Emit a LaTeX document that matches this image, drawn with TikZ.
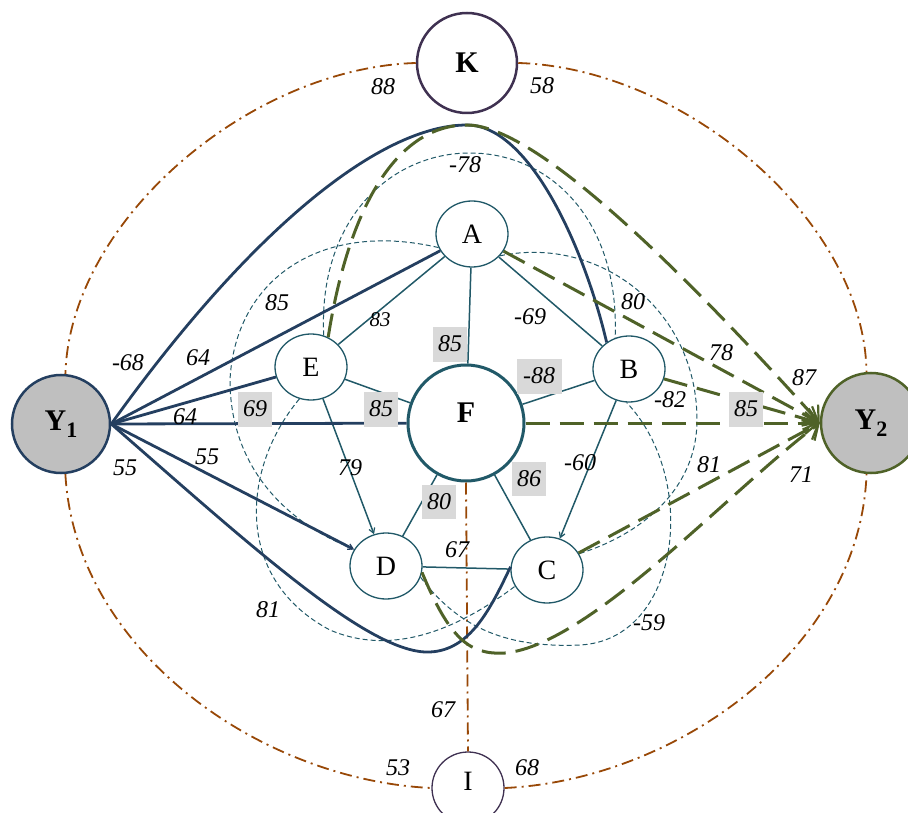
\documentclass[tikz,border=0pt]{standalone}
\usepackage{fontspec}
\setmainfont{Liberation Serif}
\usetikzlibrary{shapes.geometric,arrows.meta}
\definecolor{tealc}{HTML}{215968}
\definecolor{navyc}{HTML}{243F60}
\definecolor{greenc}{HTML}{4F6228}
\definecolor{brownc}{HTML}{984807}
\definecolor{purplec}{HTML}{3F3151}
\definecolor{ygray}{HTML}{BFBFBF}
\definecolor{boxgray}{HTML}{D9D9D9}
\begin{document}
\begin{tikzpicture}[x=1pt,y=-1pt,
  smallnode/.style={ellipse,draw=tealc,line width=1.3pt,fill=white,minimum width=72pt,minimum height=66pt,inner sep=0pt,font=\fontsize{28}{30}\selectfont},
  bignode/.style={circle,inner sep=0pt,font=\fontsize{30}{32}\selectfont\bfseries},
  lab/.style={font=\fontsize{24}{26}\selectfont\itshape,inner sep=1pt},
  glab/.style={lab,fill=boxgray,inner sep=0pt,minimum height=35pt,minimum width=34pt},
  thinedge/.style={draw=tealc,line width=1.5pt},
  thindash/.style={draw=tealc,line width=1pt,dash pattern=on 5pt off 3pt},
  bluedge/.style={draw=navyc,line width=2.8pt},
  greenedge/.style={draw=greenc,line width=3pt,dash pattern=on 24pt off 10pt,-{Straight Barb[length=13pt,width=22pt,line width=2.2pt]}},
  dashdot/.style={draw=brownc,line width=1.8pt,dash pattern=on 12pt off 5pt on 2pt off 5pt},
  smalltip/.style={-{Straight Barb[length=5pt,width=6pt,line width=1.2pt]}}
]
\useasboundingbox (0,0) rectangle (908,813);

% nodes
\node[bignode,draw=navyc,line width=2.5pt,fill=ygray,minimum size=98pt] (Y1) at (61,424) {Y\raisebox{-0.22em}{\fontsize{22}{22}\selectfont 1}};
\node[bignode,draw=greenc,line width=2.5pt,fill=ygray,minimum size=100pt] (Y2) at (871,423) {Y\raisebox{-0.22em}{\fontsize{22}{22}\selectfont 2}};
\node[bignode,draw=purplec,line width=2.5pt,fill=white,minimum size=100pt] (K) at (467,63) {K};
\node[circle,draw=purplec,line width=1.3pt,fill=white,minimum size=72pt,inner sep=0pt,font=\fontsize{28}{30}\selectfont] (I) at (468,788) {};
\node[font=\fontsize{28}{30}\selectfont,inner sep=0pt] (Itext) at (468,781) {I};
\node[bignode,draw=tealc,line width=3pt,fill=white,minimum size=116pt] (F) at (466,423) {};
\node[bignode,inner sep=0pt] (Ftext) at (466,413) {F};
\node[smallnode] (A) at (472,234) {A};
\node[smallnode] (E) at (311,367) {E};
\node[smallnode] (B) at (629,369) {B};
\node[smallnode] (D) at (386,566) {D};
\node[smallnode] (C) at (547,570) {C};

% dash-dot outer connections
\draw[dashdot] (K.west) .. controls (250,68) and (70,220) .. (Y1.85);
\draw[dashdot] (K.east) .. controls (684,68) and (864,220) .. (Y2.95);
\draw[dashdot] (Y1.-85) .. controls (75,650) and (260,780) .. (I.west);
\draw[dashdot] (I.east) .. controls (675,780) and (860,650) .. (Y2.-95);
\draw[dashdot] (F.south) -- (I.north);

% thin dashed curves
\draw[thindash] (E.68) .. controls (318,220) and (390,153) .. (470,153) .. controls (550,153) and (620,220) .. (B.114);
\draw[thindash] (A.202) .. controls (320,220) and (235,280) .. (230,380) .. controls (230,470) and (290,525) .. (D.152);
\draw[thindash] (E.250) .. controls (240,470) and (235,580) .. (330,630) .. controls (400,660) and (470,620) .. (C.207);
\draw[thindash] (D.-18) .. controls (460,630) and (510,648) .. (580,645) .. controls (680,640) and (700,480) .. (B.266);
\draw[thindash] (A.-38) .. controls (600,235) and (697,310) .. (697,420) .. controls (697,490) and (640,535) .. (C.27);

% thin solid edges
\draw[thinedge] (A) -- (F);
\draw[thinedge] (A) -- (E);
\draw[thinedge] (A) -- (B);
\draw[thinedge] (E) -- (F);
\draw[thinedge,smalltip] (E) -- (D);
\draw[thinedge] (F) -- (B);
\draw[thinedge] (F) -- (D);
\draw[thinedge] (F) -- (C);
\draw[thinedge,smalltip] (B) -- (C);
\draw[thinedge] (D) -- (C);

% thick blue edges from Y1
\draw[bluedge] (Y1.east) .. controls (250,230) and (380,125) .. (467,125) .. controls (530,125) and (585,250) .. (B.130);
\draw[bluedge] (Y1.east) -- (A);
\draw[bluedge] (Y1.east) -- (E);
\draw[bluedge] (Y1.east) -- (F);
\draw[bluedge,smalltip] (Y1.east) -- (D);
\draw[bluedge] (Y1.east) .. controls (250,545) and (370,655) .. (430,652) .. controls (470,650) and (490,610) .. (C.175);

% green dashed edges to Y2
\draw[greenedge] (E.60) .. controls (350,200) and (400,125) .. (467,125) .. controls (540,125) and (700,290) .. (Y2.west);
\draw[greenedge] (A) -- (Y2.west);
\draw[greenedge] (B) -- (Y2.west);
\draw[greenedge] (F) -- (Y2.west);
\draw[greenedge] (C) -- (Y2.west);
\draw[greenedge] (D.-10) .. controls (450,640) and (470,655) .. (505,653) .. controls (590,645) and (730,490) .. (Y2.west);

% labels
\node[lab] (l1) at (383,87) {88};
\node[lab] (l2) at (542,86) {58};
\node[lab] (l3) at (465,165) {-78};
\node[lab] (l4) at (277,303) {85};
\node[lab,font=\fontsize{21}{23}\selectfont\itshape] (l5) at (380,320) {83};
\node[glab] (l6) at (450,344) {85};
\node[lab] (l7) at (530,317) {-69};
\node[lab] (l8) at (633,302) {80};
\node[lab] (l9) at (128,363) {-68};
\node[lab] (l10) at (198,358) {64};
\node[lab] (l11) at (185,417) {64};
\node[glab] (l12) at (255,409) {69};
\node[glab] (l13) at (381,409) {85};
\node[glab,minimum width=45pt] (l14) at (539,376) {-88};
\node[lab] (l15) at (670,400) {-82};
\node[lab] (l16) at (721,353) {78};
\node[lab] (l17) at (804,378) {87};
\node[glab] (l18) at (746,409) {85};
\node[lab] (l19) at (207,457) {55};
\node[lab] (l20) at (125,468) {55};
\node[lab] (l21) at (350,468) {79};
\node[glab,minimum height=34pt] (l22) at (439,502) {80};
\node[glab,minimum height=34pt] (l23) at (529,479) {86};
\node[lab] (l24) at (580,463) {-60};
\node[lab] (l25) at (709,465) {81};
\node[lab] (l26) at (801,475) {71};
\node[lab] (l27) at (457,550) {67};
\node[lab] (l28) at (268,610) {81};
\node[lab] (l29) at (649,623) {-59};
\node[lab] (l30) at (443,710) {67};
\node[lab] (l31) at (398,768) {53};
\node[lab] (l32) at (527,768) {68};
\end{tikzpicture}
\end{document}
